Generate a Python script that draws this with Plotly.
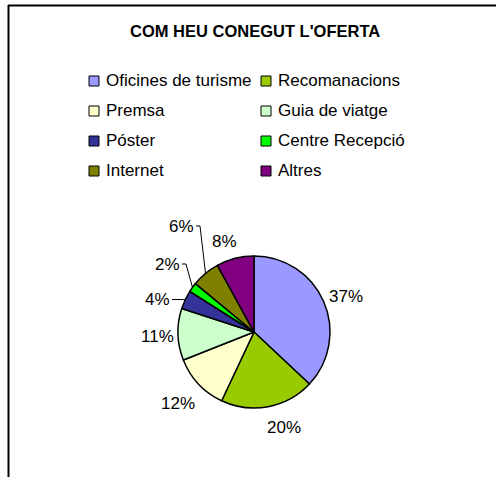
import math
import plotly.graph_objects as go

# Survey: how visitors learned about the offer (share of answers, %)
categories = [
    "Oficines de turisme", "Recomanacions", "Premsa", "Guia de viatge",
    "Póster", "Centre Recepció", "Internet", "Altres",
]
shares = [37, 20, 12, 11, 4, 2, 6, 8]
title_text = "COM HEU CONEGUT L'OFERTA"

slice_colors = ["#9999FF", "#99CC00", "#FFFFCC", "#CCFFCC",
                "#333399", "#00FF00", "#808000", "#800080"]

# Canvas geometry (pixels)
W, H = 496, 477
CX, CY, R = 254, 332, 76
FONT = "Liberation Sans, Arial, sans-serif"

# Percentage label centres (pixels); the three small slices use leader lines
label_xy = [(345.5, 296), (284, 427.5), (178, 403.5), (157.5, 336.5),
            (157, 299.5), (167, 264), (181, 226), (224.5, 241)]
leader = [False, False, False, False, True, True, True, False]

# Legend grid: two columns, entries filled row by row
LEG_COL_X = [89, 261]
LEG_ROW_Y0, LEG_ROW_DY = 81, 30
LEG_BOX = 10


def px(x):
    return x / W


def py(y):
    return 1 - y / H


fig = go.Figure(
    go.Pie(
        labels=categories,
        values=shares,
        sort=False,
        direction="clockwise",
        rotation=0,
        textinfo="none",
        hoverinfo="label+percent",
        showlegend=False,
        marker=dict(colors=slice_colors, line=dict(color="black", width=1.5)),
        domain=dict(x=[px(CX - R), px(CX + R)], y=[py(CY + R), py(CY - R)]),
    )
)

shapes = []
annotations = []

# Chart frame (top and left edges)
shapes.append(dict(type="line", xref="paper", yref="paper",
                   x0=px(8), y0=py(5.5), x1=px(W), y1=py(5.5),
                   line=dict(color="black", width=2)))
shapes.append(dict(type="line", xref="paper", yref="paper",
                   x0=px(8.5), y0=py(5), x1=px(8.5), y1=py(H),
                   line=dict(color="black", width=2)))

# Title
annotations.append(dict(text="<b>" + title_text + "</b>", x=px(255), y=py(31.5),
                        xref="paper", yref="paper", xanchor="center", yanchor="middle",
                        showarrow=False, font=dict(family=FONT, size=16.5, color="black")))

# Percentage labels and leader lines
total = sum(shares)
cum = 0
for i, v in enumerate(shares):
    mid = (cum + v / 2) / total * 2 * math.pi
    cum += v
    lx, ly = label_xy[i]
    annotations.append(dict(text=f"{round(v / total * 100)}%", x=px(lx), y=py(ly),
                            xref="paper", yref="paper", xanchor="center", yanchor="middle",
                            showarrow=False, font=dict(family=FONT, size=17, color="black")))
    if leader[i]:
        ex = CX + R * math.sin(mid)
        ey = CY - R * math.cos(mid)
        path = (f"M{px(lx + 15)},{py(ly)} L{px(lx + 19)},{py(ly)} "
                f"L{px(ex)},{py(ey)}")
        shapes.append(dict(type="path", xref="paper", yref="paper", path=path,
                           line=dict(color="black", width=1)))

# Legend
for i, name in enumerate(categories):
    col, row = i % 2, i // 2
    sx = LEG_COL_X[col]
    sy = LEG_ROW_Y0 + row * LEG_ROW_DY
    shapes.append(dict(type="rect", xref="paper", yref="paper",
                       x0=px(sx), y0=py(sy + LEG_BOX / 2),
                       x1=px(sx + LEG_BOX), y1=py(sy - LEG_BOX / 2),
                       fillcolor=slice_colors[i], line=dict(color="black", width=1)))
    annotations.append(dict(text=name, x=px(sx + LEG_BOX + 5), y=py(sy),
                            xref="paper", yref="paper", xanchor="left", yanchor="middle",
                            showarrow=False, font=dict(family=FONT, size=17, color="black")))

fig.update_layout(
    width=W, height=H,
    margin=dict(l=0, r=0, t=0, b=0),
    paper_bgcolor="white",
    plot_bgcolor="white",
    shapes=shapes,
    annotations=annotations,
)

fig.write_html("out.html")
